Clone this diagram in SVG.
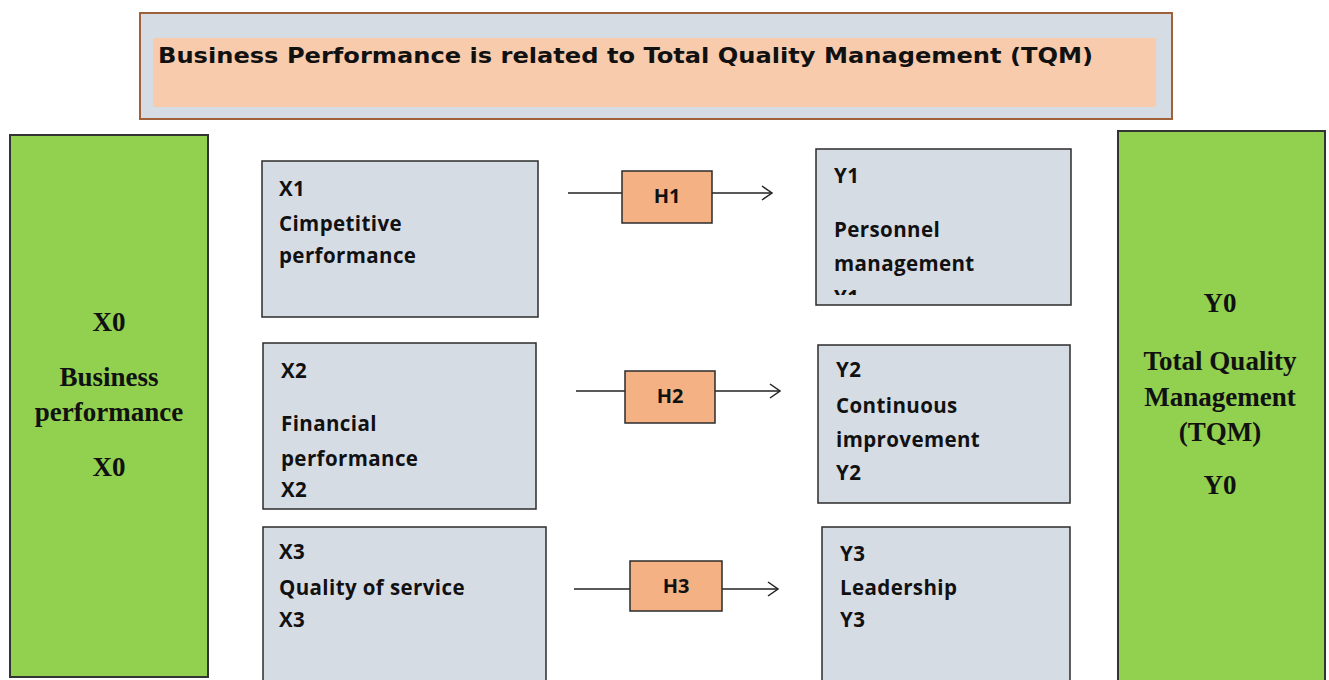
<svg xmlns="http://www.w3.org/2000/svg" width="1329" height="680" viewBox="0 0 1329 680">
<defs>
<style>
.box{fill:#d6dce4;stroke:#2b2b2b;stroke-width:1.5}
.green{fill:#92d050;stroke:#333;stroke-width:2}
.h{fill:#f4b183;stroke:#2b2b2b;stroke-width:1.5}
.t{font-family:"Open Sans","DejaVu Sans",sans-serif;font-weight:bold;font-size:20.5px;letter-spacing:0.4px;fill:#111}
.ht{font-family:"Open Sans","DejaVu Sans",sans-serif;font-weight:bold;font-size:20px;fill:#111;text-anchor:middle}
.s{font-family:"Liberation Serif","Times New Roman",serif;font-weight:bold;font-size:27px;fill:#111;text-anchor:middle}
.ln{stroke:#222;stroke-width:1.5;fill:none}
</style>
<marker id="arr" markerWidth="14" markerHeight="16" refX="12" refY="8" orient="auto" markerUnits="userSpaceOnUse">
<path d="M2,1 L12,8 L2,15" fill="none" stroke="#222" stroke-width="1.5"/>
</marker>
<clipPath id="cy1"><rect x="817" y="150" width="253" height="145"/></clipPath>
</defs>
<rect width="1329" height="680" fill="#fff"/>
<g id="title">
<rect x="140" y="13" width="1032" height="106" fill="#d6dce4" stroke="#a0603a" stroke-width="2"/>
<rect x="153" y="38" width="1003" height="69" fill="#f8cbad"/>
<text x="158" y="63" font-family="DejaVu Sans,Open Sans,sans-serif" font-weight="bold" font-size="21" fill="#111" textLength="935" lengthAdjust="spacingAndGlyphs">Business Performance is related to Total Quality Management (TQM)</text>
</g>
<g id="x0">
<rect class="green" x="10" y="135" width="198" height="542"/>
<text class="s" x="109" y="331">X0</text>
<text class="s" x="109" y="386">Business</text>
<text class="s" x="109" y="421">performance</text>
<text class="s" x="109" y="476">X0</text>
</g>
<g id="y0">
<rect class="green" x="1118" y="131" width="207" height="560"/>
<text class="s" x="1220" y="312">Y0</text>
<text class="s" x="1220" y="370">Total Quality</text>
<text class="s" x="1220" y="406">Management</text>
<text class="s" x="1220" y="441">(TQM)</text>
<text class="s" x="1220" y="494">Y0</text>
</g>
<g id="x1">
<rect class="box" x="262" y="161" width="276" height="156"/>
<text class="t" x="279" y="196">X1</text>
<text class="t" x="279" y="231">Cimpetitive</text>
<text class="t" x="279" y="263">performance</text>
</g>
<g id="y1">
<rect class="box" x="816" y="149" width="255" height="156"/>
<text class="t" x="834" y="183">Y1</text>
<text class="t" x="834" y="237">Personnel</text>
<text class="t" x="834" y="271">management</text>
<text class="t" x="834" y="305" clip-path="url(#cy1)">Y1</text>
</g>
<g id="x2">
<rect class="box" x="263" y="343" width="273" height="166"/>
<text class="t" x="281" y="378">X2</text>
<text class="t" x="281" y="431">Financial</text>
<text class="t" x="281" y="466">performance</text>
<text class="t" x="281" y="497">X2</text>
</g>
<g id="y2">
<rect class="box" x="818" y="345" width="252" height="158"/>
<text class="t" x="836" y="377">Y2</text>
<text class="t" x="836" y="413">Continuous</text>
<text class="t" x="836" y="447">improvement</text>
<text class="t" x="836" y="480">Y2</text>
</g>
<g id="x3">
<rect class="box" x="263" y="527" width="283" height="170"/>
<text class="t" x="279" y="559">X3</text>
<text class="t" x="279" y="595">Quality of service</text>
<text class="t" x="279" y="627">X3</text>
</g>
<g id="y3">
<rect class="box" x="822" y="527" width="248" height="170"/>
<text class="t" x="840" y="561">Y3</text>
<text class="t" x="840" y="595">Leadership</text>
<text class="t" x="840" y="627">Y3</text>
</g>
<g id="connectors">
<line class="ln" x1="568" y1="193" x2="622" y2="193"/>
<line class="ln" x1="712" y1="193" x2="772" y2="193" marker-end="url(#arr)"/>
<line class="ln" x1="576" y1="391" x2="625" y2="391"/>
<line class="ln" x1="715" y1="391" x2="780" y2="391" marker-end="url(#arr)"/>
<line class="ln" x1="574" y1="589" x2="630" y2="589"/>
<line class="ln" x1="722" y1="589" x2="778" y2="589" marker-end="url(#arr)"/>
</g>
<g id="h1">
<rect class="h" x="622" y="171" width="90" height="52"/>
<text class="ht" x="667" y="203">H1</text>
</g>
<g id="h2">
<rect class="h" x="625" y="371" width="90" height="52"/>
<text class="ht" x="670" y="403">H2</text>
</g>
<g id="h3">
<rect class="h" x="630" y="561" width="92" height="50"/>
<text class="ht" x="676" y="593">H3</text>
</g>
</svg>
